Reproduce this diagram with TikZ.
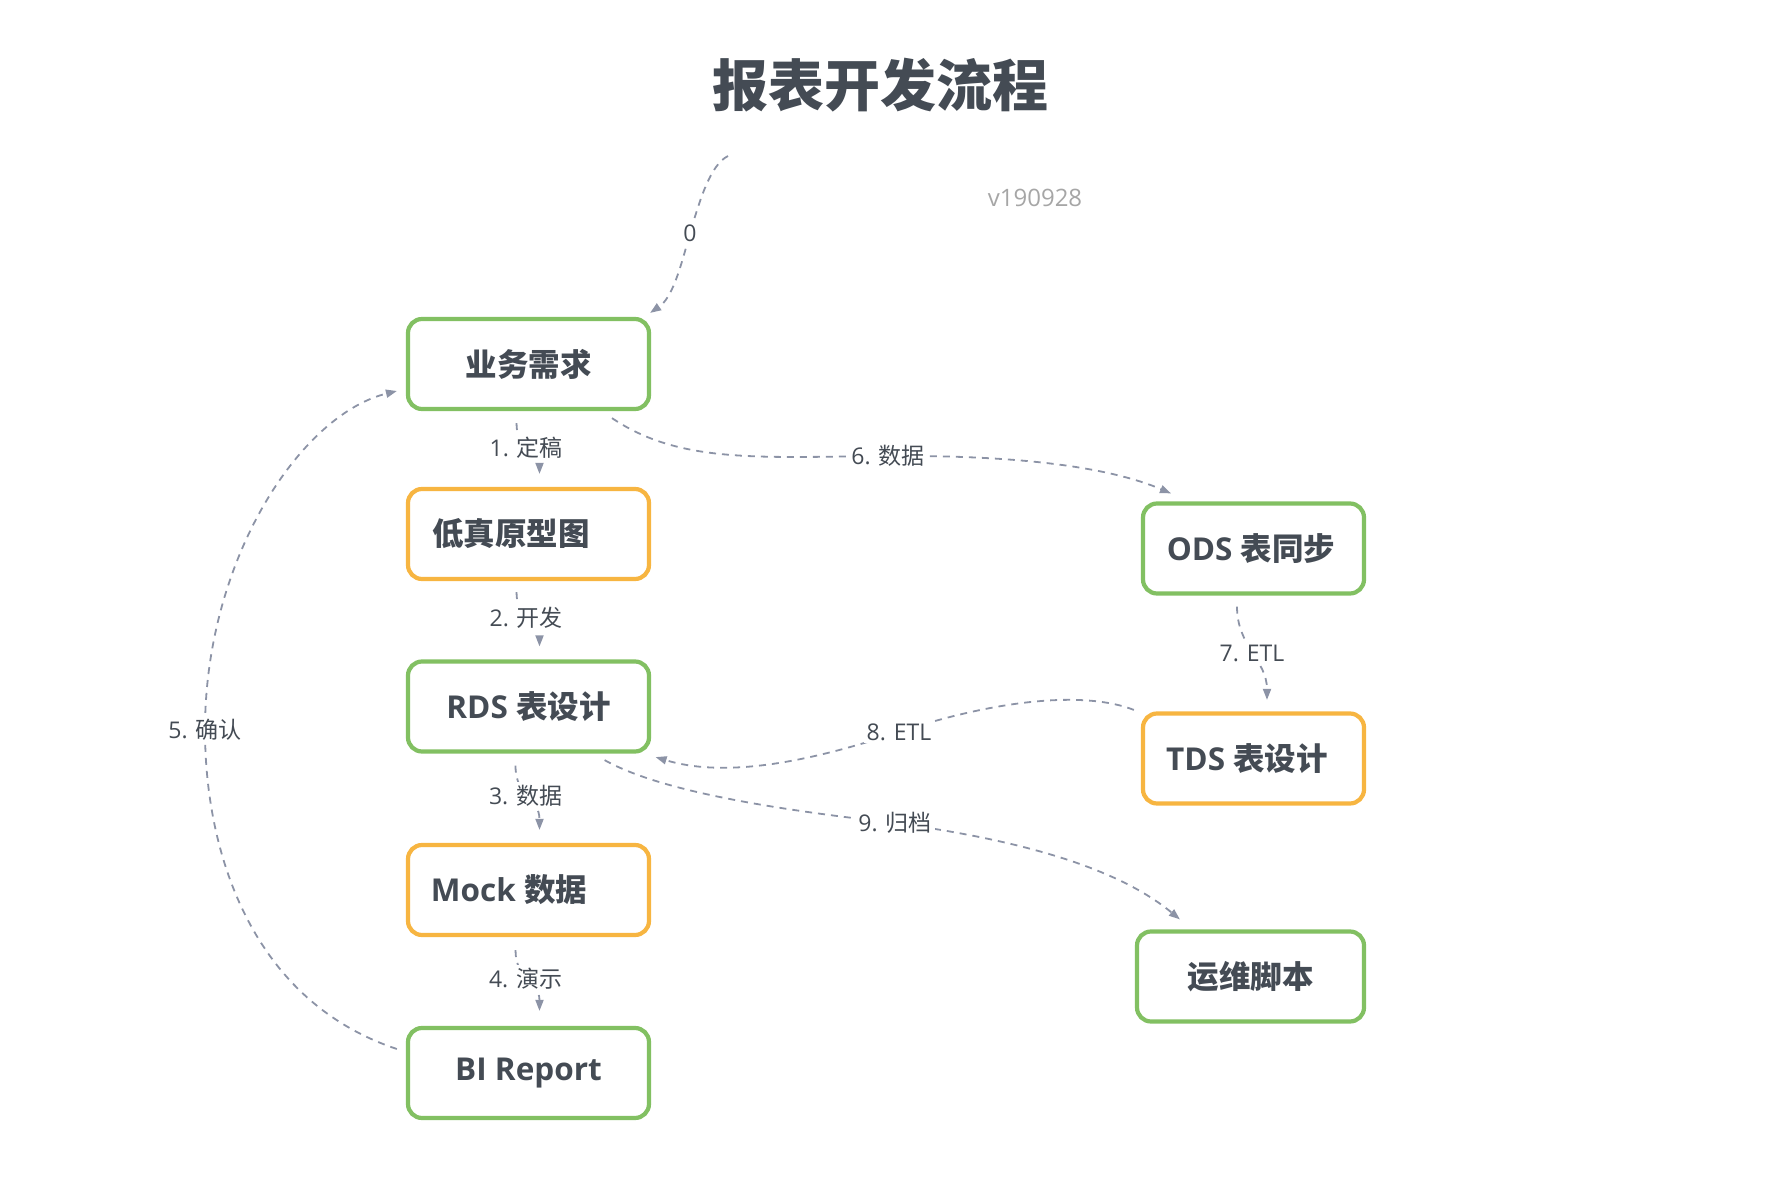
\documentclass[tikz,border=0pt]{standalone}
\usepackage{fontspec}
\setmainfont{Open Sans}
\newfontfamily\cjk{Noto Sans CJK SC}
\usetikzlibrary{arrows.meta}
\definecolor{txt}{RGB}{68,75,84}
\definecolor{grn}{RGB}{130,192,98}
\definecolor{org}{RGB}{247,181,65}
\definecolor{edg}{RGB}{140,147,166}
\definecolor{ver}{RGB}{166,166,166}
\begin{document}
\begin{tikzpicture}[x=1pt,y=-1pt,
  box/.style={draw, line width=4.2pt, rounded corners=14pt, fill=white,
    minimum width=241pt, minimum height=90pt, inner sep=0pt, text=txt,
    font=\bfseries\fontsize{31.5}{36}\selectfont},
  gbox/.style={box, draw=grn},
  obox/.style={box, draw=org},
  conn/.style={draw=edg, line width=1.8pt, dash pattern=on 7pt off 6pt,
    -{Triangle[length=11pt,width=8pt]}},
  lbl/.style={fill=white, inner sep=3pt, text=txt, font=\fontsize{23}{27}\selectfont}]

\useasboundingbox (0,0) rectangle (1788,1190);

% title and version
\node[text=txt, font=\cjk\bfseries\fontsize{56}{62}\selectfont] (title) at (880,85) {报表开发流程};
\node[text=ver, font=\fontsize{24}{28}\selectfont] (ver) at (1035,198) {v190928};

% left column
\node[gbox] (b1) at (528.5,364) {{\cjk 业务需求}};
\node[obox] (b2) at (528.5,534) {{\cjk 低真原型图}\hspace*{35pt}};
\node[gbox] (b3) at (528.5,706.5) {RDS {\cjk 表设计}};
\node[obox] (b4) at (528.5,890) {Mock {\cjk 数据}\hspace*{39pt}};
\node[gbox] (b5) at (528.5,1073) {BI Report};

% right column
\node[gbox, minimum width=221pt] (r1) at (1253.5,548.5) {ODS {\cjk 表同步}\hspace*{5pt}};
\node[obox, minimum width=221pt] (r2) at (1253.5,758.5) {TDS {\cjk 表设计}\hspace*{13pt}};
\node[gbox, minimum width=227pt] (r3) at (1250.5,976.5) {{\cjk 运维脚本}};

\coordinate (s0) at (728,156);

% 0
\draw[conn] (s0) .. controls +(-18,9) and +(10,-33) .. (690,233)
  node[lbl] (l0) {0}
  .. controls +(-10,37) and +(22,-15) .. ([shift={(-1,-4)}]b1.north east);

% 1-4 vertical steps
\draw[conn] ([shift={(-12,12)}]b1.south) .. controls +(0,29) and +(0,-27) .. ([shift={(11,-13)}]b2.north)
  node[lbl, pos=0.45] (l1) {1. {\cjk 定稿}};
\draw[conn] ([shift={(-12,11)}]b2.south) .. controls +(0,29) and +(0,-27) .. ([shift={(11,-13)}]b3.north)
  node[lbl, pos=0.45] (l2) {2. {\cjk 开发}};
\draw[conn] ([shift={(-13,12)}]b3.south) .. controls +(0,32) and +(0,-32) .. ([shift={(11,-13)}]b4.north)
  node[lbl, pos=0.45] (l3) {3. {\cjk 数据}};
\draw[conn] ([shift={(-13,13)}]b4.south) .. controls +(0,30) and +(0,-30) .. ([shift={(11,-15)}]b5.north)
  node[lbl, pos=0.45] (l4) {4. {\cjk 演示}};

% 5 confirm loop
\draw[conn] ([shift={(-9,-24)}]b5.west) .. controls +(-147,-49) and +(0,120) .. (205,730)
  node[lbl] (l5) {5. {\cjk 确认}}
  .. controls +(0,-170) and +(-97,24) .. ([shift={(-9,27)}]b1.west);

% 6
\draw[conn] ([shift={(83.5,7)}]b1.south) .. controls +(68,46) and +(-128,1) .. (888,456)
  node[lbl] (l6) {6. {\cjk 数据}}
  .. controls +(132,-1) and +(-61,-26) .. ([shift={(-82.5,-8)}]r1.north);

% 7
\draw[conn] ([shift={(-16.5,11)}]r1.south) .. controls +(0,40) and +(0,-40) .. ([shift={(13.5,-11.5)}]r2.north)
  node[lbl, pos=0.5] (l7) {7. ETL};

% 8
\draw[conn] ([shift={(-7,-1.5)}]r2.north west) .. controls +(-57,-22) and +(81,-27) .. (899,732)
  node[lbl] (l8) {8. ETL}
  .. controls +(-99,33) and +(66,20) .. ([shift={(4.5,3.5)}]b3.south east);

% 9
\draw[conn] ([shift={(-46.5,6.5)}]b3.south east) .. controls +(57,32) and +(-115,-13) .. (895,823)
  node[lbl] (l9) {9. {\cjk 归档}}
  .. controls +(125,17) and +(-63,-52) .. ([shift={(45,-10)}]r3.north west);

\end{tikzpicture}
\end{document}
